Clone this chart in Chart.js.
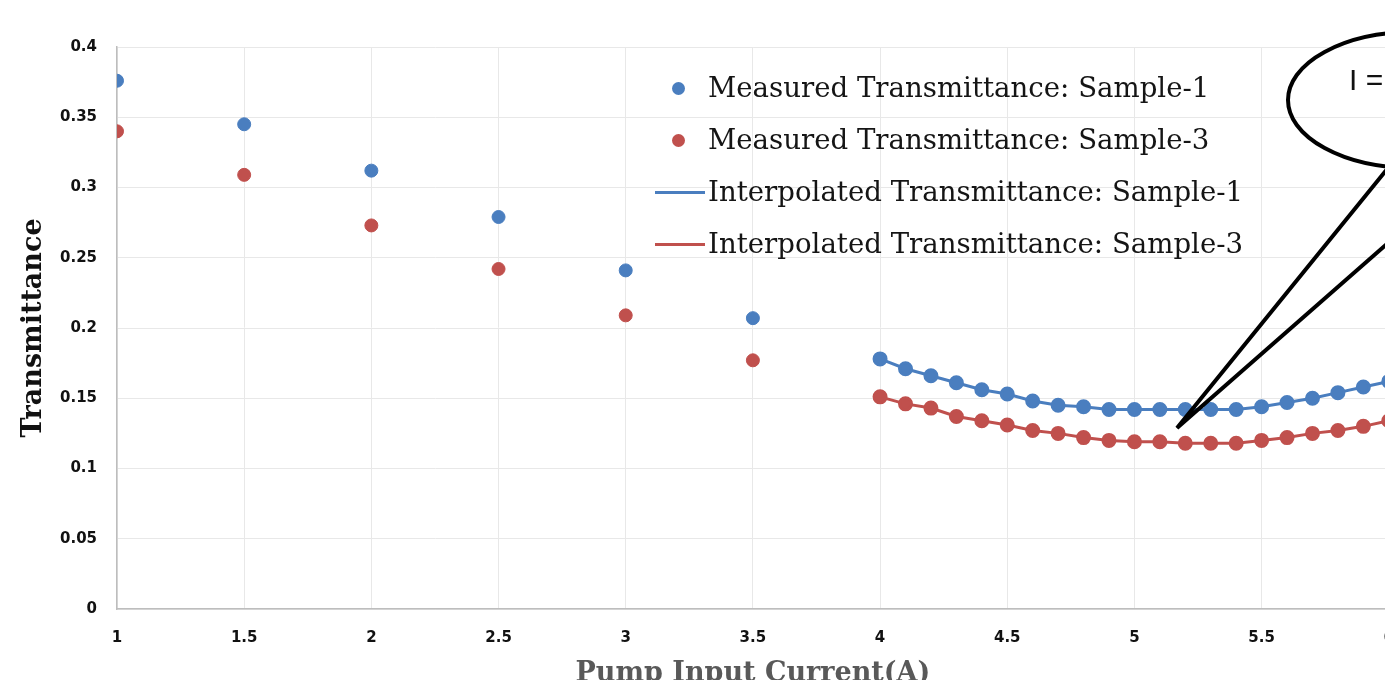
<!DOCTYPE html>
<html>
<head>
<meta charset="utf-8">
<script src="https://cdn.jsdelivr.net/npm/chart.js"></script>
<style>
    html, body { margin: 0; padding: 0; background: #fff; overflow: hidden; }
    #wrap { position: relative; width: 1385px; height: 680px; overflow: hidden; }
    canvas { position: absolute; left: 0; top: 0; }
    .legend { position: absolute; left: 0; top: 0; font-family: "DejaVu Serif", serif; font-size: 27.6px; color: #151515; }
    .legend .row { position: absolute; left: 708px; white-space: nowrap; line-height: 30px; }
    .legend .dot { position: absolute; width: 13px; height: 13px; border-radius: 50%; }
    .legend .line { position: absolute; width: 50px; height: 3px; }
</style>
</head>
<body>
<div id="wrap">
    <canvas id="chart" width="1414" height="690"></canvas>
    <div class="legend" id="legend"></div>
</div>
<script>
// Measured points
const measuredX = [1, 1.5, 2, 2.5, 3, 3.5];
const measured1 = [0.376, 0.345, 0.312, 0.279, 0.241, 0.207];
const measured3 = [0.340, 0.309, 0.273, 0.242, 0.209, 0.177];

// Interpolated curves
const interpX = [4.0, 4.1, 4.2, 4.3, 4.4, 4.5, 4.6, 4.7, 4.8, 4.9, 5.0, 5.1, 5.2, 5.3, 5.4, 5.5, 5.6, 5.7, 5.8, 5.9, 6.0];
const interp1 = [0.178, 0.171, 0.166, 0.161, 0.156, 0.153, 0.148, 0.145, 0.144, 0.142, 0.142, 0.142, 0.142, 0.142, 0.142, 0.144, 0.147, 0.150, 0.154, 0.158, 0.162];
const interp3 = [0.151, 0.146, 0.143, 0.137, 0.134, 0.131, 0.127, 0.125, 0.122, 0.120, 0.119, 0.119, 0.118, 0.118, 0.118, 0.120, 0.122, 0.125, 0.127, 0.130, 0.134];

const seriesNames = [
    'Measured Transmittance: Sample-1',
    'Measured Transmittance: Sample-3',
    'Interpolated Transmittance: Sample-1',
    'Interpolated Transmittance: Sample-3'
];

const blue = '#4a7ebf';
const red = '#c0504d';

const toPoints = (xs, ys) => xs.map((x, i) => ({ x: x, y: ys[i] }));
const fmt = v => String(+v.toFixed(2));

// callout drawn over the plot
const calloutPlugin = {
    id: 'callout',
    afterDraw(chart) {
        const ctx = chart.ctx;
        ctx.save();
        ctx.strokeStyle = '#000';
        ctx.lineWidth = 4;
        ctx.beginPath();
        ctx.ellipse(1413, 100, 125, 68, 0, 0, Math.PI * 2);
        ctx.stroke();
        ctx.beginPath();
        ctx.moveTo(1388, 168);
        ctx.lineTo(1177, 428);
        ctx.lineTo(1388, 243);
        ctx.stroke();
        ctx.fillStyle = '#111';
        ctx.font = '30px "Liberation Sans"';
        ctx.textBaseline = 'middle';
        ctx.fillText('I =', 1349, 82);
        ctx.restore();
    }
};

const tickFont = { family: 'DejaVu Sans', size: 15, weight: 'bold' };
const titleFont = { family: 'DejaVu Serif', size: 27, weight: 'bold' };

new Chart(document.getElementById('chart').getContext('2d'), {
    type: 'scatter',
    data: {
        datasets: [
            {
                label: seriesNames[0],
                data: toPoints(measuredX, measured1),
                backgroundColor: blue,
                borderColor: blue,
                pointRadius: 6.5,
                showLine: false
            },
            {
                label: seriesNames[1],
                data: toPoints(measuredX, measured3),
                backgroundColor: red,
                borderColor: red,
                pointRadius: 6.5,
                showLine: false
            },
            {
                label: seriesNames[2],
                data: toPoints(interpX, interp1),
                backgroundColor: blue,
                borderColor: blue,
                borderWidth: 3,
                pointRadius: 6,
                showLine: true
            },
            {
                label: seriesNames[3],
                data: toPoints(interpX, interp3),
                backgroundColor: red,
                borderColor: red,
                borderWidth: 3,
                pointRadius: 6,
                showLine: true
            }
        ]
    },
    options: {
        responsive: false,
        animation: false,
        devicePixelRatio: 1,
        layout: { padding: { top: 47, right: 12, left: 0, bottom: 0 } },
        plugins: {
            legend: { display: false },
            tooltip: { enabled: false }
        },
        scales: {
            x: {
                type: 'linear',
                min: 1,
                max: 6,
                afterFit: s => { s.height = 81; },
                ticks: { stepSize: 0.5, padding: 20, color: '#111', font: tickFont, callback: fmt },
                grid: { color: '#e8e8e8', drawTicks: false },
                border: { color: '#bdbdbd', width: 1.5 },
                title: { display: true, text: 'Pump Input Current(A)', color: '#595959', font: titleFont, padding: { top: 0, bottom: 0 } }
            },
            y: {
                min: 0,
                max: 0.4,
                afterFit: s => { s.width = 117; },
                ticks: { stepSize: 0.05, padding: 20, color: '#111', font: tickFont, callback: fmt },
                grid: { color: '#e8e8e8', drawTicks: false },
                border: { color: '#bdbdbd', width: 1.5 },
                title: { display: true, text: 'Transmittance', color: '#111', font: titleFont, padding: { top: 18, bottom: 0 } }
            }
        }
    },
    plugins: [calloutPlugin]
});

// HTML legend inside the plot
function populateLegend() {
    const legend = document.getElementById('legend');
    const rowsY = [88, 140, 192, 244];
    const colors = [blue, red, blue, red];
    seriesNames.forEach((name, i) => {
        if (i < 2) {
            const dot = document.createElement('div');
            dot.className = 'dot';
            dot.style.background = colors[i];
            dot.style.left = (678 - 6.5) + 'px';
            dot.style.top = (rowsY[i] - 6.5) + 'px';
            legend.appendChild(dot);
        } else {
            const line = document.createElement('div');
            line.className = 'line';
            line.style.background = colors[i];
            line.style.left = '655px';
            line.style.top = (rowsY[i] - 1.5) + 'px';
            legend.appendChild(line);
        }
        const row = document.createElement('div');
        row.className = 'row';
        row.textContent = name;
        row.style.top = (rowsY[i] - 15) + 'px';
        legend.appendChild(row);
    });
}
populateLegend();
</script>
</body>
</html>
